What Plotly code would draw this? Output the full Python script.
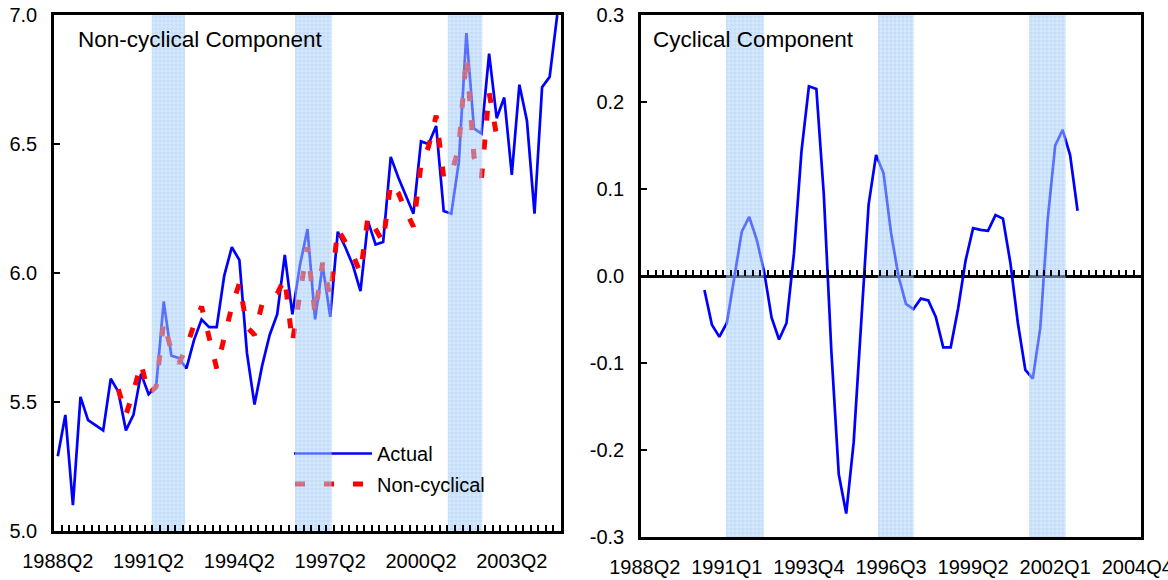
import plotly.graph_objects as go

# ---------------- data ----------------
quarters = [
    "1988Q2", "1988Q3", "1988Q4",
    "1989Q1", "1989Q2", "1989Q3", "1989Q4",
    "1990Q1", "1990Q2", "1990Q3", "1990Q4",
    "1991Q1", "1991Q2", "1991Q3", "1991Q4",
    "1992Q1", "1992Q2", "1992Q3", "1992Q4",
    "1993Q1", "1993Q2", "1993Q3", "1993Q4",
    "1994Q1", "1994Q2", "1994Q3", "1994Q4",
    "1995Q1", "1995Q2", "1995Q3", "1995Q4",
    "1996Q1", "1996Q2", "1996Q3", "1996Q4",
    "1997Q1", "1997Q2", "1997Q3", "1997Q4",
    "1998Q1", "1998Q2", "1998Q3", "1998Q4",
    "1999Q1", "1999Q2", "1999Q3", "1999Q4",
    "2000Q1", "2000Q2", "2000Q3", "2000Q4",
    "2001Q1", "2001Q2", "2001Q3", "2001Q4",
    "2002Q1", "2002Q2", "2002Q3", "2002Q4",
    "2003Q1", "2003Q2", "2003Q3", "2003Q4",
    "2004Q1", "2004Q2", "2004Q3", "2004Q4",
]

actual = [
    5.29, 5.45, 5.10, 5.52, 5.43, 5.41, 5.39, 5.59, 5.54, 5.39,
    5.45, 5.61, 5.53, 5.56, 5.89, 5.68, 5.67, 5.63, 5.74, 5.82,
    5.79, 5.79, 5.99, 6.10, 6.05, 5.69, 5.49, 5.64, 5.76, 5.84,
    6.07, 5.84, 6.03, 6.17, 5.82, 6.03, 5.83, 6.16, 6.10, 6.03,
    5.93, 6.20, 6.11, 6.12, 6.45, 6.37, 6.30, 6.23, 6.51, 6.50,
    6.57, 6.24, 6.23, 6.43, 6.93, 6.56, 6.54, 6.85, 6.60, 6.68,
    6.38, 6.73, 6.59, 6.23, 6.72, 6.76, 7.00,
]

# non-cyclical and cyclical components cover 1990Q2 .. 2002Q4
component_quarters = quarters[8:59]

noncyclical = [
    5.55, 5.45, 5.54, 5.65, 5.53, 5.56, 5.81, 5.70, 5.65, 5.71,
    5.80, 5.87, 5.75, 5.63, 5.75, 5.87, 5.96, 5.79, 5.76, 5.88,
    5.90, 5.92, 5.98, 5.73, 5.92, 6.10, 5.84, 6.04, 5.91, 6.17,
    6.12, 6.07, 6.00, 6.22, 6.17, 6.12, 6.35, 6.31, 6.24, 6.18,
    6.42, 6.49, 6.61, 6.37, 6.38, 6.49, 6.84, 6.45, 6.37, 6.70,
    6.53,
]

cyclical = [
    -0.016, -0.056, -0.070, -0.054, -0.002, 0.051, 0.068, 0.042, 0.005, -0.048,
    -0.073, -0.054, 0.026, 0.143, 0.218, 0.215, 0.093, -0.085, -0.228, -0.273,
    -0.191, -0.048, 0.082, 0.139, 0.118, 0.050, 0.000, -0.032, -0.038, -0.026,
    -0.028, -0.047, -0.082, -0.082, -0.037, 0.018, 0.055, 0.053, 0.052, 0.070,
    0.066, 0.015, -0.054, -0.108, -0.118, -0.060, 0.065, 0.150, 0.168, 0.139,
    0.075,
]

left_xticks = ["1988Q2", "1991Q2", "1994Q2", "1997Q2", "2000Q2", "2003Q2"]
right_xticks = ["1988Q2", "1991Q1", "1993Q4", "1996Q3", "1999Q2", "2002Q1", "2004Q4"]
left_yticks = [5.0, 5.5, 6.0, 6.5, 7.0]
right_yticks = [-0.3, -0.2, -0.1, 0.0, 0.1, 0.2, 0.3]

# shaded periods, in category-index units (start, end)
left_bands = [(12.41, 16.81), (31.35, 36.20), (51.53, 56.10)]
right_bands = [(10.89, 15.94), (31.26, 36.04), (51.49, 56.41)]

# ---------------- geometry helpers ----------------
W, H = 1168, 580
ML, MR, MT, MB = 54, 27, 15, 43
PW, PH = W - ML - MR, H - MT - MB


def fx(px):
    return (px - ML) / PW


def fy(py):
    return (H - MB - py) / PH


FONT = "Liberation Sans, Arial, sans-serif"
BLUE = "#0000ff"
RED = "#ff0000"
n = len(quarters)
xr = [-0.5, n - 0.5]

fig = go.Figure()

# lines
fig.add_trace(go.Scatter(x=quarters, y=actual, mode="lines", name="Actual",
                         line=dict(color=BLUE, width=2.7), xaxis="x", yaxis="y",
                         showlegend=False, hoverinfo="skip"))
fig.add_trace(go.Scatter(x=component_quarters, y=noncyclical, mode="lines", name="Non-cyclical",
                         line=dict(color=RED, width=5, dash="10px,19px"), xaxis="x", yaxis="y",
                         showlegend=False, hoverinfo="skip"))
fig.add_trace(go.Scatter(x=component_quarters, y=cyclical, mode="lines", name="Cyclical",
                         line=dict(color=BLUE, width=2.7), xaxis="x2", yaxis="y2",
                         showlegend=False, hoverinfo="skip"))

# shaded bands (drawn on overlay subplots so they sit above the lines)
pattern = dict(shape="+", size=4, solidity=0.2, fgcolor="#64a4ed", bgcolor="#b4d7fa",
               fillmode="replace")
for bands, xa, ya in [(left_bands, "x3", "y3"), (right_bands, "x4", "y4")]:
    fig.add_trace(go.Bar(x=[(s + e) / 2 for s, e in bands], y=[1] * len(bands),
                         width=[e - s for s, e in bands], base=0,
                         marker=dict(color="#b4d7fa", line=dict(width=0), pattern=pattern),
                         opacity=0.55, xaxis=xa, yaxis=ya, showlegend=False, hoverinfo="skip"))

axis_common = dict(showgrid=False, zeroline=False, linecolor="black", linewidth=2.5,
                   automargin=False,
                   tickfont=dict(family=FONT, size=20, color="black"))

left_dom = [0, fx(561)]
left_ydom = [fy(531), 1]
right_dom = [fx(641), 1]
right_ydom = [0, 1]

fig.update_layout(
    width=W, height=H,
    margin=dict(l=ML, r=MR, t=MT, b=MB, pad=0, autoexpand=False),
    paper_bgcolor="white", plot_bgcolor="white",
    font=dict(family=FONT, color="black"),
    showlegend=False,
    xaxis=dict(domain=left_dom, anchor="y", type="category", categoryorder="array",
               categoryarray=quarters, range=xr, tickmode="array", tickvals=left_xticks,
               ticktext=left_xticks, ticks="", showline=True, mirror=True,
               ticklabelstandoff=10, **axis_common),
    yaxis=dict(domain=left_ydom, anchor="x", range=[5.0, 7.0], tickmode="array",
               tickvals=left_yticks, ticktext=[f"{v:.1f}" for v in left_yticks],
               ticks="inside", ticklen=6, tickwidth=2, tickcolor="black",
               showline=True, mirror=True, ticklabelstandoff=10, **axis_common),
    xaxis3=dict(overlaying="x", anchor="y3", type="linear", range=xr, tickmode="linear",
                tick0=0.5, dtick=1, ticks="inside", ticklen=6, tickwidth=2, tickcolor="black",
                showticklabels=False, showline=False, showgrid=False, zeroline=False,
                automargin=False),
    yaxis3=dict(overlaying="y", anchor="x3", range=[0, 1], visible=False, automargin=False),
    xaxis2=dict(domain=right_dom, anchor="y2", type="category", categoryorder="array",
                categoryarray=quarters, range=xr, tickmode="array", tickvals=right_xticks,
                ticktext=right_xticks, ticks="", showline=True, mirror=True,
                ticklabelstandoff=10, **axis_common),
    yaxis2=dict(domain=right_ydom, anchor="x2", range=[-0.3, 0.3], tickmode="array",
                tickvals=right_yticks, ticktext=[f"{v:.1f}" for v in right_yticks],
                ticks="inside", ticklen=6, tickwidth=2, tickcolor="black",
                showline=True, mirror=True, ticklabelstandoff=10,
                showgrid=False, zeroline=True, zerolinecolor="black", zerolinewidth=2.5,
                linecolor="black", linewidth=2.5, automargin=False,
                tickfont=dict(family=FONT, size=20, color="black")),
    xaxis4=dict(overlaying="x2", anchor="free", position=fy(276), type="linear", range=xr,
                tickmode="linear", tick0=0.5, dtick=1, ticks="inside", ticklen=6, tickwidth=2,
                tickcolor="black", showticklabels=False, showline=False, showgrid=False,
                zeroline=False, automargin=False),
    yaxis4=dict(overlaying="y2", anchor="x4", range=[0, 1], visible=False, automargin=False),
)

# titles
fig.add_annotation(x=fx(76), y=fy(40), xref="paper", yref="paper", text="Non-cyclical Component",
                   showarrow=False, xanchor="left", yanchor="middle",
                   font=dict(family=FONT, size=22.5, color="black"))
fig.add_annotation(x=fx(651), y=fy(40), xref="paper", yref="paper", text="Cyclical Component",
                   showarrow=False, xanchor="left", yanchor="middle",
                   font=dict(family=FONT, size=22.5, color="black"))

# custom legend
fig.add_shape(type="line", xref="paper", yref="paper", x0=fx(294), x1=fx(372),
              y0=fy(453.5), y1=fy(453.5), line=dict(color=BLUE, width=2.7), layer="below")
fig.add_shape(type="line", xref="paper", yref="paper", x0=fx(295), x1=fx(372),
              y0=fy(484), y1=fy(484), line=dict(color=RED, width=5, dash="10px,19px"),
              layer="below")
fig.add_annotation(x=fx(375), y=fy(454), xref="paper", yref="paper", text="Actual",
                   showarrow=False, xanchor="left", yanchor="middle",
                   font=dict(family=FONT, size=20, color="black"))
fig.add_annotation(x=fx(375), y=fy(485), xref="paper", yref="paper", text="Non-cyclical",
                   showarrow=False, xanchor="left", yanchor="middle",
                   font=dict(family=FONT, size=20, color="black"))

fig.write_html("out.html")
